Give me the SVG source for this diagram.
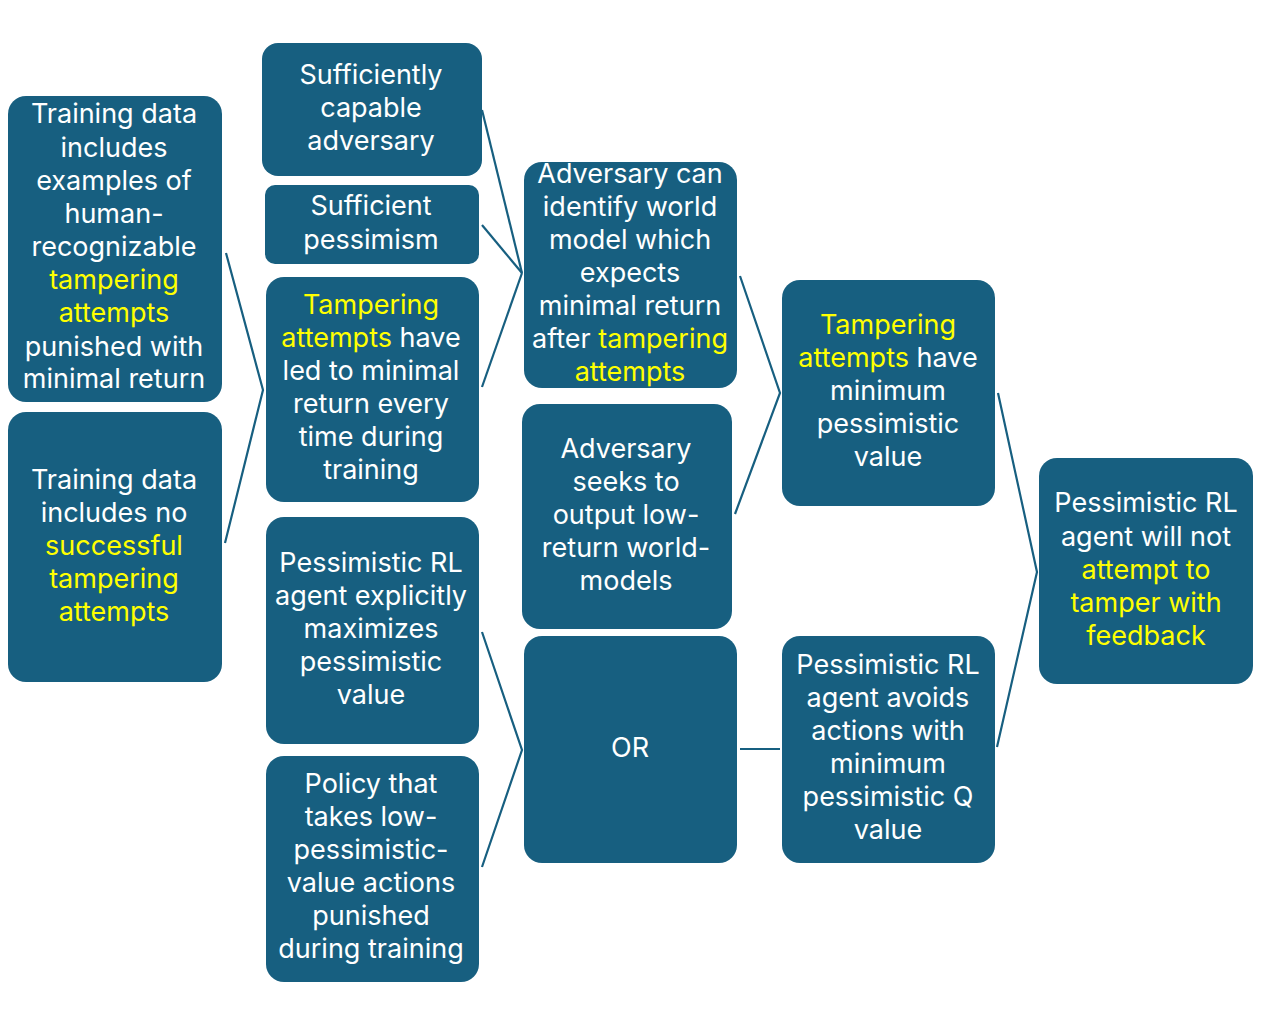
<svg xmlns="http://www.w3.org/2000/svg" width="1264" height="1028" viewBox="0 0 1264 1028">
<style>
.box{fill:#175F80;}
.t{font-family:Inter,"Noto Sans","Liberation Sans",sans-serif;font-size:27px;fill:#FFFFFF;text-anchor:middle;}
.y{fill:#FFFF00;}
.c{fill:none;stroke:#175F80;stroke-width:2.2;stroke-linejoin:miter;}
</style>
<rect width="1264" height="1028" fill="#FFFFFF"/>
<g id="connectors">
<polyline class="c" points="226,253 263,390 225,543"/>
<polyline class="c" points="482,110 522,273"/>
<polyline class="c" points="482,225 522,273"/>
<polyline class="c" points="482,387 522,273"/>
<polyline class="c" points="482,632 522,750 482,867"/>
<polyline class="c" points="740,276 780,393 735,514"/>
<line class="c" x1="740" y1="749" x2="780" y2="749"/>
<polyline class="c" points="998,393 1037,572 997,747"/>
</g>
<g id="n1">
<rect class="box" x="8" y="96" width="214" height="306" rx="18"/>
<text class="t"><tspan x="114" y="123">Training data</tspan><tspan x="114" y="157">includes</tspan><tspan x="114" y="190">examples of</tspan><tspan x="114" y="223">human-</tspan><tspan x="114" y="256">recognizable</tspan><tspan class="y" x="114" y="289">tampering</tspan><tspan class="y" x="114" y="322">attempts</tspan><tspan x="114" y="356">punished with</tspan><tspan x="114" y="388">minimal return</tspan></text>
</g>
<g id="n2">
<rect class="box" x="8" y="412" width="214" height="270" rx="18"/>
<text class="t"><tspan x="114" y="489">Training data</tspan><tspan x="114" y="522">includes no</tspan><tspan class="y" x="114" y="555">successful</tspan><tspan class="y" x="114" y="588">tampering</tspan><tspan class="y" x="114" y="621">attempts</tspan></text>
</g>
<g id="n3">
<rect class="box" x="262" y="43" width="220" height="133" rx="16"/>
<text class="t"><tspan x="371" y="84">Sufficiently</tspan><tspan x="371" y="117">capable</tspan><tspan x="371" y="150">adversary</tspan></text>
</g>
<g id="n4">
<rect class="box" x="265" y="185" width="214" height="79" rx="10"/>
<text class="t"><tspan x="371" y="215">Sufficient</tspan><tspan x="371" y="249">pessimism</tspan></text>
</g>
<g id="n5">
<rect class="box" x="266" y="277" width="213" height="225" rx="18"/>
<text class="t"><tspan class="y" x="371" y="314">Tampering</tspan><tspan x="371" y="347"><tspan class="y">attempts</tspan> have</tspan><tspan x="371" y="380">led to minimal</tspan><tspan x="371" y="413">return every</tspan><tspan x="371" y="446">time during</tspan><tspan x="371" y="479">training</tspan></text>
</g>
<g id="n6">
<rect class="box" x="266" y="517" width="213" height="227" rx="18"/>
<text class="t"><tspan x="371" y="572">Pessimistic RL</tspan><tspan x="371" y="605">agent explicitly</tspan><tspan x="371" y="638">maximizes</tspan><tspan x="371" y="671">pessimistic</tspan><tspan x="371" y="704">value</tspan></text>
</g>
<g id="n7">
<rect class="box" x="266" y="756" width="213" height="226" rx="18"/>
<text class="t"><tspan x="371" y="793">Policy that</tspan><tspan x="371" y="826">takes low-</tspan><tspan x="371" y="859">pessimistic-</tspan><tspan x="371" y="892">value actions</tspan><tspan x="371" y="925">punished</tspan><tspan x="371" y="958">during training</tspan></text>
</g>
<g id="n8">
<rect class="box" x="524" y="162" width="213" height="226" rx="18"/>
<text class="t"><tspan x="630" y="183">Adversary can</tspan><tspan x="630" y="216">identify world</tspan><tspan x="630" y="249">model which</tspan><tspan x="630" y="282">expects</tspan><tspan x="630" y="315">minimal return</tspan><tspan x="630" y="348">after <tspan class="y">tampering</tspan></tspan><tspan class="y" x="630" y="381">attempts</tspan></text>
</g>
<g id="n9">
<rect class="box" x="522" y="404" width="210" height="225" rx="18"/>
<text class="t"><tspan x="626" y="458">Adversary</tspan><tspan x="626" y="491">seeks to</tspan><tspan x="626" y="524">output low-</tspan><tspan x="626" y="557">return world-</tspan><tspan x="626" y="590">models</tspan></text>
</g>
<g id="n10">
<rect class="box" x="524" y="636" width="213" height="227" rx="18"/>
<text class="t" x="630" y="757">OR</text>
</g>
<g id="n11">
<rect class="box" x="782" y="280" width="213" height="226" rx="18"/>
<text class="t"><tspan class="y" x="888" y="334">Tampering</tspan><tspan x="888" y="367"><tspan class="y">attempts</tspan> have</tspan><tspan x="888" y="400">minimum</tspan><tspan x="888" y="433">pessimistic</tspan><tspan x="888" y="466">value</tspan></text>
</g>
<g id="n12">
<rect class="box" x="782" y="636" width="213" height="227" rx="18"/>
<text class="t"><tspan x="888" y="674">Pessimistic RL</tspan><tspan x="888" y="707">agent avoids</tspan><tspan x="888" y="740">actions with</tspan><tspan x="888" y="773">minimum</tspan><tspan x="888" y="806">pessimistic Q</tspan><tspan x="888" y="839">value</tspan></text>
</g>
<g id="n13">
<rect class="box" x="1039" y="458" width="214" height="226" rx="18"/>
<text class="t"><tspan x="1146" y="512">Pessimistic RL</tspan><tspan x="1146" y="546">agent will not</tspan><tspan class="y" x="1146" y="579">attempt to</tspan><tspan class="y" x="1146" y="612">tamper with</tspan><tspan class="y" x="1146" y="645">feedback</tspan></text>
</g>
</svg>
